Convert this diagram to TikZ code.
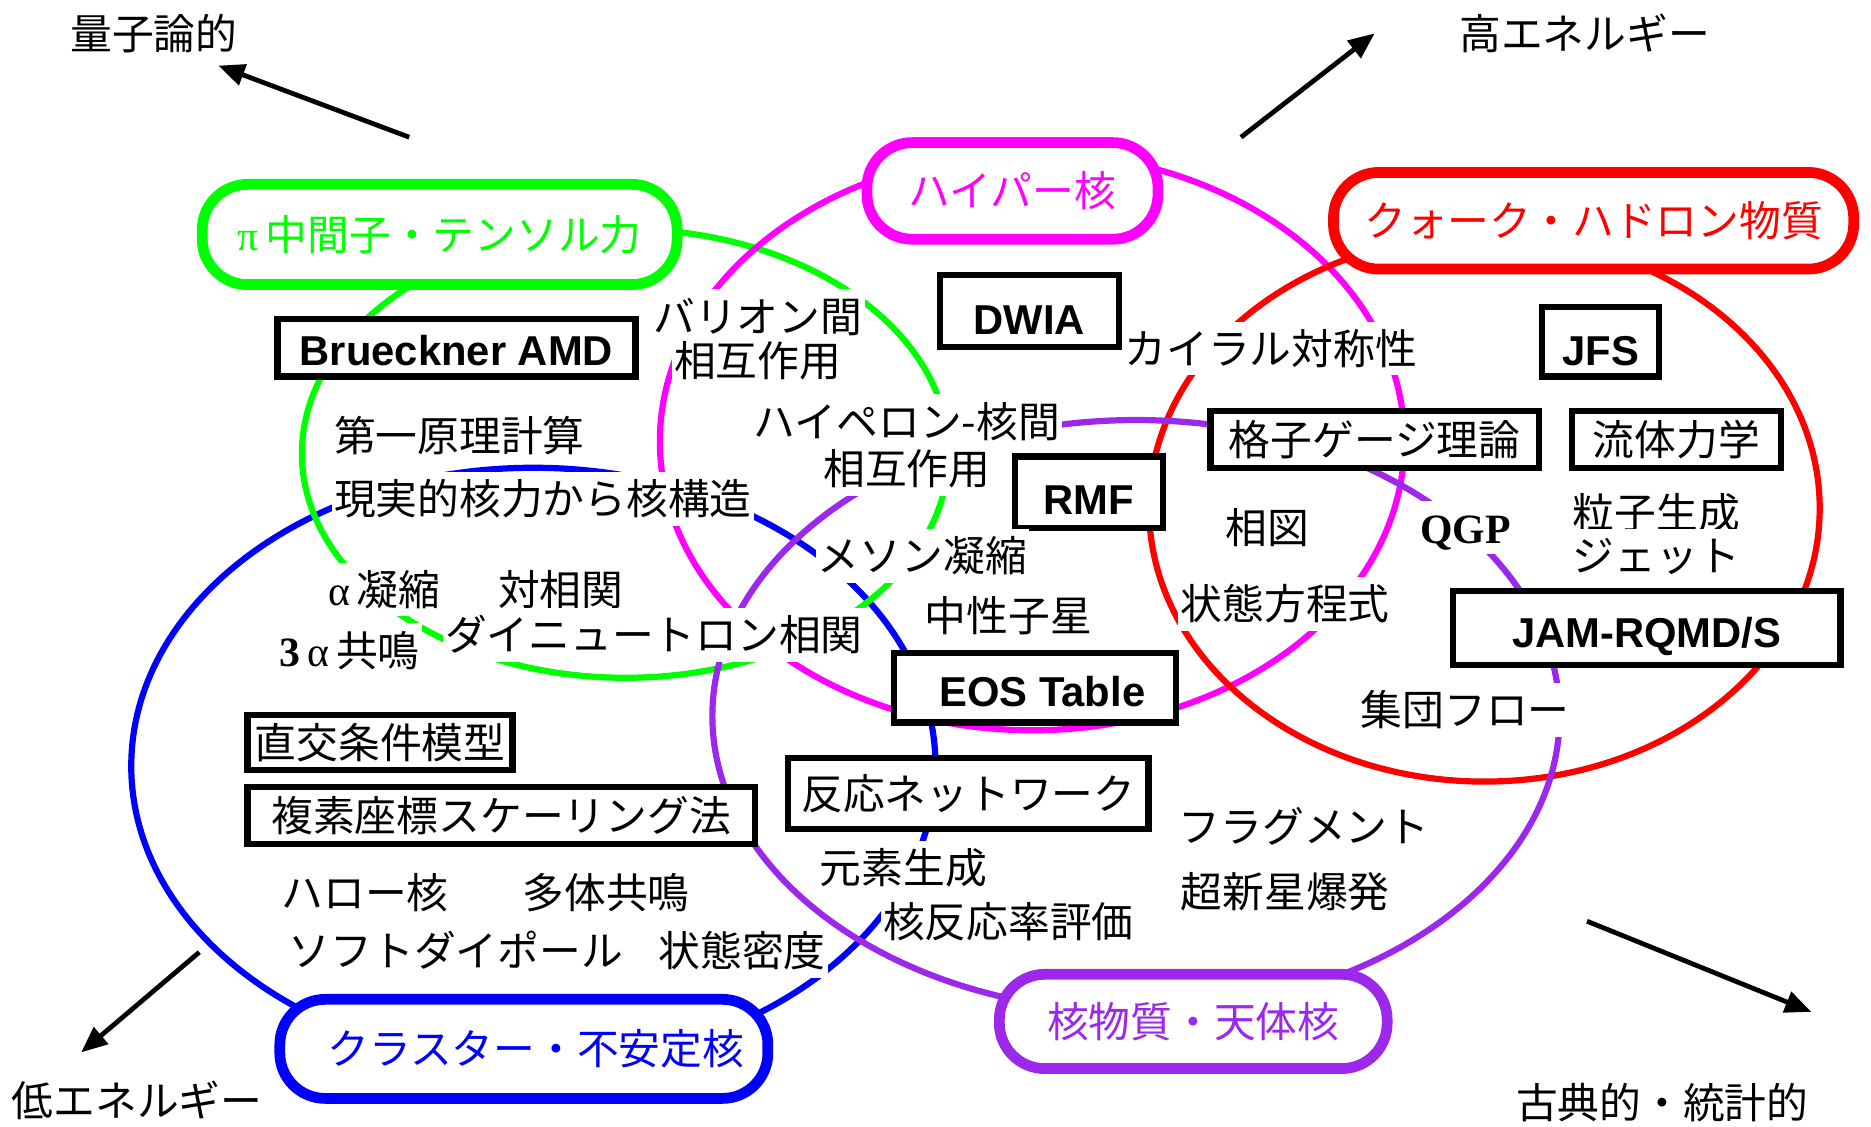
\documentclass[tikz,border=0pt]{standalone}
\usepackage{fontspec}
\setmainfont{Liberation Serif}
\newfontfamily\jpfont{Noto Sans CJK JP}
\newfontfamily\arialfont{Liberation Sans}
\usetikzlibrary{arrows.meta}
\definecolor{cgreen}{RGB}{0,255,0}
\definecolor{cmag}{RGB}{255,0,255}
\definecolor{cred}{RGB}{255,0,0}
\definecolor{cblue}{RGB}{0,0,255}
\definecolor{cpurp}{RGB}{155,40,235}
\newcommand\jsz{\fontsize{17.5pt}{20pt}\selectfont}
\begin{document}
\begin{tikzpicture}[x=0.5pt,y=-0.5pt,
  ring/.style={line width=2.6pt},
  catbox/.style={line width=4.5pt, rounded corners=19pt, fill=white, inner sep=0pt, font=\jpfont\jsz},
  engbox/.style={draw=black, line width=2.6pt, fill=white, inner sep=0pt, text depth=0pt, font=\arialfont\bfseries\jsz},
  jbox/.style={draw=black, line width=2.6pt, fill=white, inner sep=0pt, font=\jpfont\jsz},
  lbl/.style={fill=white, inner xsep=1pt, inner ysep=2.5pt, text height=15.4pt, text depth=2.1pt, font=\jpfont\jsz},
  dirlbl/.style={inner sep=1pt, font=\jpfont\jsz},
  dirarrow/.style={line width=2pt, -{Triangle[length=11pt,width=9pt]}}
]
\useasboundingbox (0,0) rectangle (1568,944);
\fill[white] (0,0) rectangle (1568,944);
% rings
\draw[ring,cblue]  (447,642)  ellipse [x radius=168.5pt, y radius=125pt];
\draw[ring,cgreen] (524,380)  ellipse [x radius=135.5pt, y radius=94pt];
\draw[ring,cmag]   (865,370)  ellipse [x radius=156pt, y radius=121pt];
\draw[ring,cred]   (1244,426) ellipse [x radius=140.5pt, y radius=114.5pt];
\draw[ring,cpurp]  (952,600)  ellipse [x radius=177.5pt, y radius=124pt];
% category boxes
\node[catbox,draw=cgreen,text=cgreen,minimum width=199pt,minimum height=42pt] (pi) at (368.5,196.5) {{\rmfamily π}\,中間子・テンソル力};
\node[catbox,draw=cmag,text=cmag,minimum width=122pt,minimum height=40.5pt] (hyp) at (848.5,160) {ハイパー核};
\node[catbox,draw=cred,text=cred,minimum width=218pt,minimum height=40.5pt] (qh) at (1335.5,185) {クォーク・ハドロン物質};
\node[catbox,draw=cblue,text=cblue,minimum width=204.5pt,minimum height=41.5pt] (cl) at (439,879) {\hspace{10pt}クラスター・不安定核};
\node[catbox,draw=cpurp,text=cpurp,minimum width=162.5pt,minimum height=39.5pt] (nm) at (1000,856) {核物質・天体核};
% method boxes
\node[engbox,text height=14.5pt,minimum width=150pt,minimum height=24pt] (bru) at (382.5,291.5) {Brueckner AMD};
\node[engbox,text height=19.5pt,minimum width=75pt,minimum height=30pt] (dwia) at (862.5,260.5) {DWIA};
\node[engbox,text height=20pt,minimum width=49pt,minimum height=29pt] (jfs) at (1341.5,286.5) {JFS};
\node[jbox,minimum width=137.5pt,minimum height=24pt] (lat) at (1152,368.5) {格子ゲージ理論};
\node[jbox,minimum width=87.5pt,minimum height=24pt] (hyd) at (1405,368.5) {流体力学};
\node[engbox,text height=19pt,minimum width=62pt,minimum height=30pt] (rmf) at (912.5,412.5) {RMF};
\node[engbox,text height=16.5pt,minimum width=162.5pt,minimum height=31pt] (jam) at (1380,526.5) {JAM-RQMD/S};
\node[engbox,text height=15.5pt,minimum width=118pt,minimum height=29pt] (eos) at (867.5,576.5) {\hspace{6pt}EOS Table};
\node[jbox,minimum width=111pt,minimum height=23pt] (ocm) at (318.5,622.5) {直交条件模型};
\node[jbox,minimum width=212.5pt,minimum height=24pt] (csm) at (420,683.5) {複素座標スケーリング法};
\node[jbox,minimum width=151pt,minimum height=29.5pt] (net) at (811.5,665) {反応ネットワーク};
% labels
\node[lbl] (t1) at (635,265) {バリオン間};
\node[lbl] (t2) at (635,302) {相互作用};
\node[lbl] (t3) at (385,365) {第一原理計算};
\node[lbl] (t4) at (455,418) {現実的核力から核構造};
\node[lbl] (t5) at (760,353) {ハイペロン-核間};
\node[lbl] (t6) at (760,393) {相互作用};
\node[lbl] (t7) at (1065,292) {カイラル対称性};
\node[lbl] (t8) at (773,466) {メソン凝縮};
\node[lbl] (t9) at (322,494) {{\rmfamily α}\,凝縮};
\node[lbl] (t10) at (470,494) {対相関};
\node[lbl] (t11) at (293,545) {{\rmfamily\bfseries 3}\,{\rmfamily α}\,共鳴};
\node[lbl] (t12) at (548,532) {ダイニュートロン相関};
\node[lbl] (t13) at (845,516) {中性子星};
\node[lbl] (t14) at (1062,442) {相図};
\node[lbl,font=\rmfamily\bfseries\jsz] (t15) at (1228,442) {QGP};
\node[lbl] (t16) at (1388,430) {粒子生成};
\node[lbl] (t17) at (1388,466) {ジェット};
\node[lbl] (t18) at (1077,506) {状態方程式};
\node[lbl] (t19) at (1228,595) {集団フロー};
\node[lbl] (t20) at (1093,693) {フラグメント};
\node[lbl] (t21) at (1077,747) {超新星爆発};
\node[lbl] (t22) at (757,727) {元素生成};
\node[lbl] (t23) at (845,772) {核反応率評価};
\node[lbl] (t24) at (306,748) {ハロー核};
\node[lbl] (t25) at (508,748) {多体共鳴};
\node[lbl] (t26) at (382,797) {ソフトダイポール};
\node[lbl] (t27) at (622,797) {状態密度};
% direction labels and arrows
\node[dirlbl] (qm) at (129,28) {量子論的};
\node[dirlbl] (he) at (1328,28) {高エネルギー};
\node[dirlbl] (le) at (115,922) {低エネルギー};
\node[dirlbl] (cs) at (1393,924) {古典的・統計的};
\coordinate (a1s) at (343,115); \coordinate (a1e) at (183,55);
\coordinate (a2s) at (1040,115); \coordinate (a2e) at (1152,28);
\coordinate (a3s) at (167,798); \coordinate (a3e) at (68,882);
\coordinate (a4s) at (1330,772); \coordinate (a4e) at (1518,848);
\draw[dirarrow] (a1s) -- (a1e);
\draw[dirarrow] (a2s) -- (a2e);
\draw[dirarrow] (a3s) -- (a3e);
\draw[dirarrow] (a4s) -- (a4e);
\end{tikzpicture}
\end{document}
